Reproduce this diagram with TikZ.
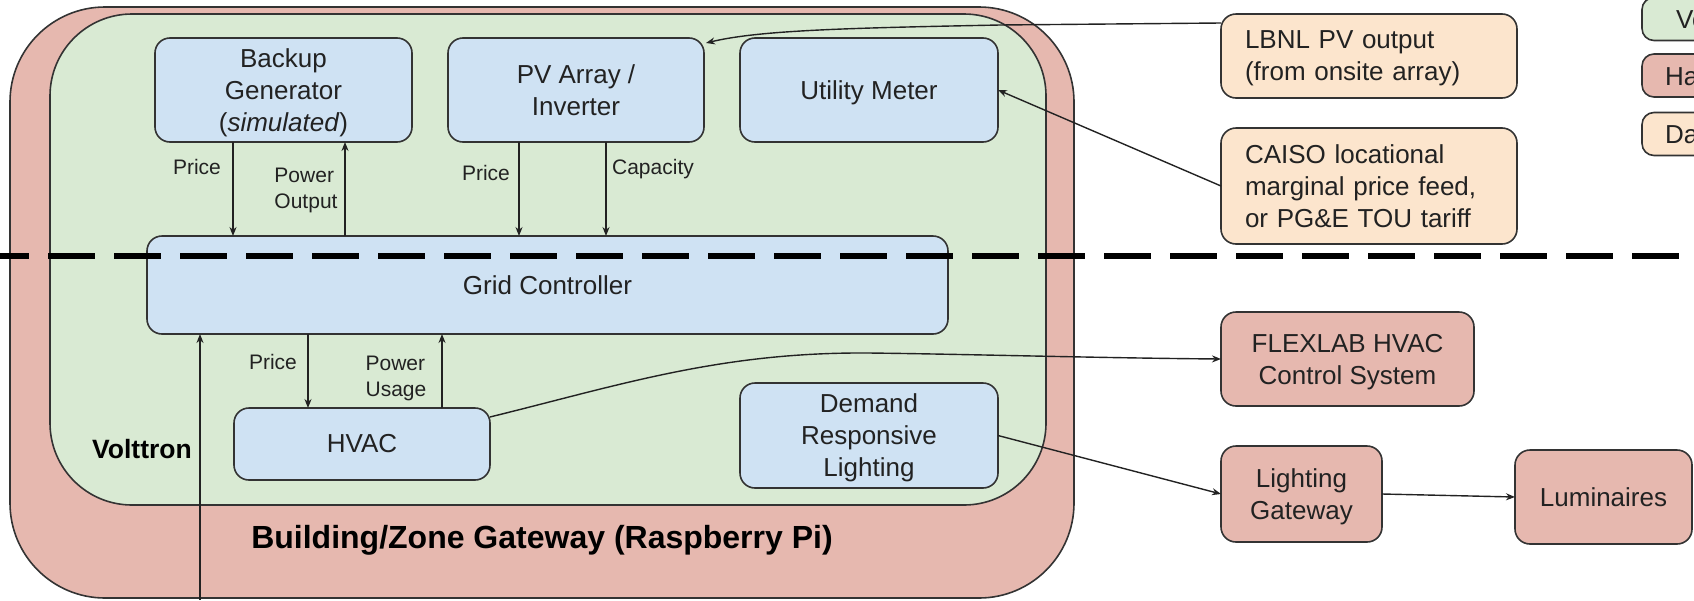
\documentclass[tikz,border=0pt]{standalone}
\usepackage{fontspec}
\setmainfont{Liberation Sans}
\usetikzlibrary{arrows.meta}
\definecolor{gwred}{HTML}{E6B8AF}
\definecolor{vgreen}{HTML}{D9EAD3}
\definecolor{agentblue}{HTML}{CFE2F3}
\definecolor{datatan}{HTML}{FCE5CD}
\definecolor{edge}{HTML}{333333}
\definecolor{ink}{HTML}{222222}
% a line whose descenders do not count, so box texts centre on their capitals
\newcommand{\nodepth}[1]{\raisebox{0pt}[\height][0pt]{#1}}
\begin{document}
\begin{tikzpicture}[x=1pt,y=-1pt,
  box/.style={draw=edge, line width=1.6pt, rounded corners=15pt, inner sep=0pt, outer sep=0pt,
    align=center, text=ink, font=\fontsize{26}{32}\selectfont},
  agent/.style={box, fill=agentblue},
  hw/.style={box, fill=gwred},
  data/.style={box, fill=datatan, align=left},
  legendbox/.style={box, rounded corners=12pt, anchor=west, minimum width=120pt, minimum height=43pt},
  flow/.style={draw=ink, line width=1.4pt, -{Stealth[length=9pt,width=7pt]}},
  lbl/.style={text=ink, font=\fontsize{21}{26}\selectfont, align=left, inner sep=0pt},
  divider/.style={draw=black, line width=5.5pt, dash pattern=on 47pt off 19pt},
]
\useasboundingbox (0,0) rectangle (1694,600);
\clip (0,0) rectangle (1694,600);

% containers: gateway hardware and the Volttron platform on it
\node[box, fill=gwred, rounded corners=95pt, minimum width=1064pt, minimum height=591pt] (gateway) at (542,302.5) {};
\node[box, fill=vgreen, rounded corners=82pt, minimum width=996pt, minimum height=491pt] (volttron) at (548,259.5) {};
\node[text=black, font=\bfseries\fontsize{26.5}{31}\selectfont, inner sep=0pt] (vlabel) at (142,449) {Volttron};
\node[text=black, font=\bfseries\fontsize{32}{37}\selectfont, inner sep=0pt] (gwlabel) at (542,537) {\nodepth{Building/Zone Gateway (Raspberry Pi)}};

% Volttron agents
\node[agent, minimum width=257pt, minimum height=104pt] (bg) at (283.5,90) {Backup\\Generator\\\nodepth{(\textit{simulated})}};
\node[agent, minimum width=256pt, minimum height=104pt] (pv) at (576,90) {PV Array /\\Inverter};
\node[agent, minimum width=258pt, minimum height=104pt] (um) at (869,90) {\nodepth{Utility Meter}};
\node[agent, minimum width=801pt, minimum height=98pt] (gc) at (547.5,285) {Grid Controller};
\node[agent, minimum width=256pt, minimum height=72pt] (hvac) at (362,444) {HVAC};
\node[agent, minimum width=258pt, minimum height=105pt] (drl) at (869,435.5) {Demand\\Responsive\\\nodepth{Lighting}};

% external data sources
\node[data, minimum width=296pt, minimum height=84pt, text width=248pt] (lbnl) at (1369,56) {LBNL PV output\\\nodepth{(from onsite array)}};
\node[data, minimum width=296pt, minimum height=116pt, text width=248pt] (caiso) at (1369,186) {CAISO locational\\marginal price feed,\\\nodepth{or PG\&E TOU tariff}};

% external hardware
\node[hw, minimum width=253pt, minimum height=94pt] (flex) at (1347.5,359) {FLEXLAB HVAC\\\nodepth{Control System}};
\node[hw, minimum width=161pt, minimum height=96pt] (lg) at (1301.5,494) {Lighting\\\nodepth{Gateway}};
\node[hw, minimum width=177pt, minimum height=94pt] (lum) at (1603.5,497) {Luminaires};

% legend
\node[legendbox, fill=vgreen] (legv) at (1642,19) {};
\node[legendbox, fill=gwred] (legh) at (1642,75.5) {};
\node[legendbox, fill=datatan] (legd) at (1642,134) {};
\node[text=ink, font=\fontsize{26}{31}\selectfont, anchor=west, inner sep=0pt] (legvt) at (1676,20) {Vo};
\node[text=ink, font=\fontsize{26}{31}\selectfont, anchor=west, inner sep=0pt] (leght) at (1665,77) {Ha};
\node[text=ink, font=\fontsize{26}{31}\selectfont, anchor=west, inner sep=0pt] (legdt) at (1665,135) {Da};

% x positions of the vertical message arrows
\coordinate (xbgp) at (233,0);
\coordinate (xbgo) at (345,0);
\coordinate (xpvp) at (519,0);
\coordinate (xpvc) at (606,0);
\coordinate (xhp) at (308,0);
\coordinate (xhu) at (442,0);
\coordinate (feed) at (200,600);

\draw[flow] (bg.south -| xbgp) -- (gc.north -| xbgp);
\draw[flow] (gc.north -| xbgo) -- (bg.south -| xbgo);
\draw[flow] (pv.south -| xpvp) -- (gc.north -| xpvp);
\draw[flow] (pv.south -| xpvc) -- (gc.north -| xpvc);
\draw[flow] (gc.south -| xhp) -- (hvac.north -| xhp);
\draw[flow] (hvac.north -| xhu) -- (gc.south -| xhu);
\draw[flow] (feed) -- (gc.south -| feed);

\node[lbl] (l1) at (197,167) {Price};
\node[lbl] (l2) at (306,188) {Power\\\nodepth{Output}};
\node[lbl] (l3) at (486,173) {Price};
\node[lbl] (l4) at (653,167) {\nodepth{Capacity}};
\node[lbl] (l5) at (273,362) {Price};
\node[lbl] (l6) at (396,376) {Power\\\nodepth{Usage}};

% external feeds and control links
\draw[flow] ([yshift=-9pt]lbnl.north west) -- (1000,25) .. controls (850,28) and (760,30) .. ([xshift=2pt,yshift=-5pt]pv.north east);
\draw[flow] (caiso.west) -- (um.east);
\draw[flow] ([yshift=-9pt]hvac.north east) .. controls (620,385) and (720,352) .. (868,353)
   .. controls (960,354) and (1100,358) .. (flex.west);
\draw[flow] (drl.east) -- (lg.west);
\draw[flow] (lg.east) -- (lum.west);

% boundary between building side and grid side
\coordinate (dashL) at (-18,256);
\coordinate (dashR) at (1679,256);
\draw[divider] (dashL) -- (dashR);
\end{tikzpicture}
\end{document}
